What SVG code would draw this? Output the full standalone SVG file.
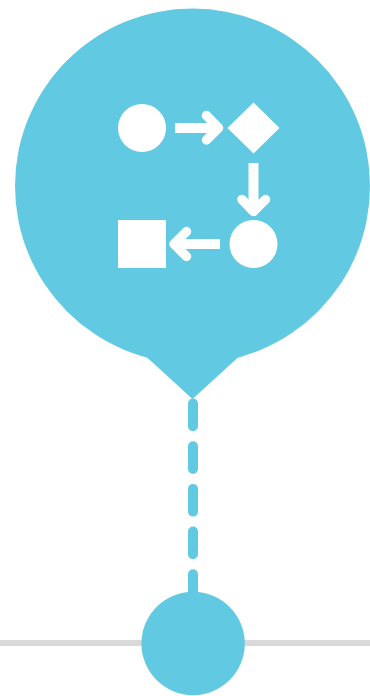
<svg xmlns="http://www.w3.org/2000/svg" width="370" height="696" viewBox="0 0 370 696">
<style>
.blue{fill:#62c9e3}
.w{fill:#fff}
.arrow{fill:none;stroke:#fff;stroke-width:9.500;stroke-linecap:round;stroke-linejoin:round}
.shaft{fill:none;stroke:#fff;stroke-width:10}
</style>
<rect width="370" height="696" fill="#fff"/>
<g id="connectors">
<line x1="0" y1="643" x2="370" y2="643" stroke="#d9d9d9" stroke-width="6"/>
<line x1="193" y1="403.500" x2="193" y2="600" stroke="#62c9e3" stroke-width="10" stroke-linecap="round" stroke-dasharray="22.700 20"/>
</g>
<g id="pin">
<circle class="blue" cx="192.500" cy="186" r="177.500"/>
<path class="blue" d="M146.500 357L192.500 399L238.500 357L192.500 340Z"/>
</g>
<g id="icon">
<circle class="w" cx="142" cy="128" r="24"/>
<path class="w" d="M253.500 102.500L279.500 128L253.500 153.500L227.500 128Z"/>
<rect class="w" x="118" y="220" width="48" height="48"/>
<circle class="w" cx="253.500" cy="244" r="24"/>
<path class="shaft" d="M175 128H216"/>
<path class="arrow" d="M206.500 115.500L218.500 128L206.500 140"/>
<path class="shaft" d="M253.500 163V205"/>
<path class="arrow" d="M242 199.500L253.500 211.500L265.500 199.500"/>
<path class="shaft" d="M220 244H178"/>
<path class="arrow" d="M186.500 231.500L174 244L186.500 256.500"/>
</g>
<g id="marker">
<circle class="blue" cx="193.100" cy="643.500" r="51.700"/>
</g>
</svg>
